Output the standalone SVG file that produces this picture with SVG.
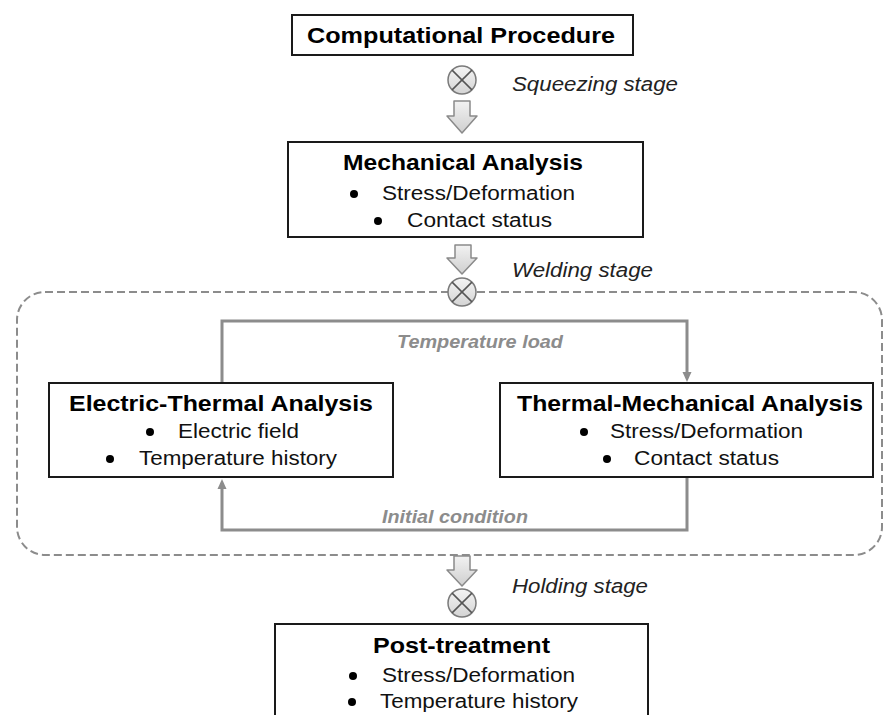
<svg xmlns="http://www.w3.org/2000/svg" width="884" height="715" viewBox="0 0 884 715">
<style>
.box{fill:#fff;stroke:#1a1a1a;stroke-width:2}
.t{font-family:"Liberation Sans",Arial,sans-serif;font-weight:bold;font-size:22px;fill:#000}
.b{font-family:"Liberation Sans",Arial,sans-serif;font-size:20px;fill:#111}
.st{font-family:"Liberation Sans",Arial,sans-serif;font-style:italic;font-size:20px;fill:#222}
.gl{font-family:"Liberation Sans",Arial,sans-serif;font-style:italic;font-weight:bold;font-size:18px;fill:#8c8c8c}
.conn{fill:none;stroke:#8c8c8c;stroke-width:3}
.dash{fill:none;stroke:#8c8c8c;stroke-width:2;stroke-dasharray:8 4}
.dot{fill:#000}
.circ{fill:url(#cg);stroke:#7a7a7a;stroke-width:1.5}
.x{stroke:#555;stroke-width:1.5}
.barr{fill:url(#ag);stroke:#8a8a8a;stroke-width:1.5;stroke-linejoin:round}
</style>
<defs>
<linearGradient id="cg" x1="0" y1="0" x2="0" y2="1"><stop offset="0" stop-color="#f4f4f4"/><stop offset="1" stop-color="#d4d4d4"/></linearGradient>
<linearGradient id="ag" x1="0" y1="0" x2="0" y2="1"><stop offset="0" stop-color="#f2f2f2"/><stop offset="1" stop-color="#cfcfcf"/></linearGradient>
<marker id="ah" markerWidth="12" markerHeight="12" refX="6" refY="5" orient="auto" markerUnits="userSpaceOnUse"><path d="M0,0.5 L10,5 L0,9.5 Z" fill="#8c8c8c"/></marker>
</defs>

<g id="welding-region">
<rect class="dash" x="17" y="292" width="865" height="263" rx="28" ry="28"/>
</g>

<g id="connectors">
<path class="conn" d="M222,383 V321 H687 V378" marker-end="url(#ah)"/>
<path class="conn" d="M687,477 V530 H222 V483" marker-end="url(#ah)"/>
<text class="gl" x="397" y="348" textLength="166" lengthAdjust="spacingAndGlyphs">Temperature load</text>
<text class="gl" x="382" y="523" textLength="146" lengthAdjust="spacingAndGlyphs">Initial condition</text>
</g>

<g id="computational-procedure">
<rect class="box" x="292" y="15" width="341" height="40"/>
<text class="t" x="307" y="43" textLength="308" lengthAdjust="spacingAndGlyphs">Computational Procedure</text>
</g>

<g id="squeezing-stage">
<circle class="circ" cx="462" cy="80" r="14"/>
<line class="x" x1="452.1" y1="70.1" x2="471.9" y2="89.9"/>
<line class="x" x1="471.9" y1="70.1" x2="452.1" y2="89.9"/>
<path class="barr" d="M454,101 H470 V116 H477 L462,133 L447,116 H454 Z"/>
<text class="st" x="512" y="91" textLength="166" lengthAdjust="spacingAndGlyphs">Squeezing stage</text>
</g>

<g id="mechanical-analysis">
<rect class="box" x="288" y="142" width="355" height="95"/>
<text class="t" x="343" y="170" textLength="240" lengthAdjust="spacingAndGlyphs">Mechanical Analysis</text>
<circle class="dot" cx="354" cy="194" r="4"/>
<text class="b" x="382" y="200" textLength="193" lengthAdjust="spacingAndGlyphs">Stress/Deformation</text>
<circle class="dot" cx="378" cy="221" r="4"/>
<text class="b" x="407" y="227" textLength="145" lengthAdjust="spacingAndGlyphs">Contact status</text>
</g>

<g id="welding-stage">
<path class="barr" d="M455,245 H471 V258 H477 L462,274 L447,258 H455 Z"/>
<circle class="circ" cx="462" cy="292" r="14"/>
<line class="x" x1="452.1" y1="282.1" x2="471.9" y2="301.9"/>
<line class="x" x1="471.9" y1="282.1" x2="452.1" y2="301.9"/>
<text class="st" x="512" y="277" textLength="141" lengthAdjust="spacingAndGlyphs">Welding stage</text>
</g>

<g id="electric-thermal-analysis">
<rect class="box" x="49" y="383" width="344" height="94"/>
<text class="t" x="69" y="411" textLength="304" lengthAdjust="spacingAndGlyphs">Electric-Thermal Analysis</text>
<circle class="dot" cx="150" cy="432" r="4"/>
<text class="b" x="178" y="438" textLength="121" lengthAdjust="spacingAndGlyphs">Electric field</text>
<circle class="dot" cx="110" cy="459" r="4"/>
<text class="b" x="139" y="465" textLength="198" lengthAdjust="spacingAndGlyphs">Temperature history</text>
</g>

<g id="thermal-mechanical-analysis">
<rect class="box" x="500" y="383" width="373" height="94"/>
<text class="t" x="517" y="411" textLength="346" lengthAdjust="spacingAndGlyphs">Thermal-Mechanical Analysis</text>
<circle class="dot" cx="584" cy="432" r="4"/>
<text class="b" x="610" y="438" textLength="193" lengthAdjust="spacingAndGlyphs">Stress/Deformation</text>
<circle class="dot" cx="607" cy="459" r="4"/>
<text class="b" x="634" y="465" textLength="145" lengthAdjust="spacingAndGlyphs">Contact status</text>
</g>

<g id="holding-stage">
<path class="barr" d="M454,556 H470 V570 H477 L462,586 L447,570 H454 Z"/>
<circle class="circ" cx="462" cy="603" r="14"/>
<line class="x" x1="452.1" y1="593.1" x2="471.9" y2="612.9"/>
<line class="x" x1="471.9" y1="593.1" x2="452.1" y2="612.9"/>
<text class="st" x="512" y="593" textLength="136" lengthAdjust="spacingAndGlyphs">Holding stage</text>
</g>

<g id="post-treatment">
<rect class="box" x="275" y="624" width="373" height="100"/>
<text class="t" x="373" y="653" textLength="177" lengthAdjust="spacingAndGlyphs">Post-treatment</text>
<circle class="dot" cx="353" cy="676" r="4"/>
<text class="b" x="382" y="682" textLength="193" lengthAdjust="spacingAndGlyphs">Stress/Deformation</text>
<circle class="dot" cx="352" cy="702" r="4"/>
<text class="b" x="380" y="708" textLength="198" lengthAdjust="spacingAndGlyphs">Temperature history</text>
</g>
</svg>
